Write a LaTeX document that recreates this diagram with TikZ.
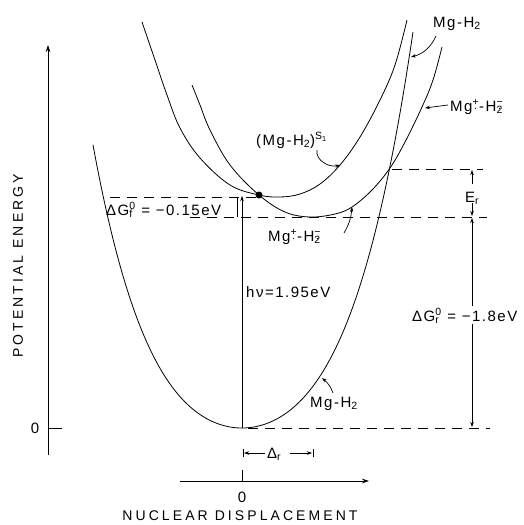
\documentclass[tikz,border=0pt]{standalone}
\usepackage{fontspec}
\setmainfont{Liberation Sans}[LetterSpace=10]
\newfontfamily\axisfont{Liberation Sans}[LetterSpace=22]
\usetikzlibrary{arrows.meta}
\newcommand\dotbelow[1]{\ooalign{\hfil#1\hfil\cr\hfil\raisebox{-0.6ex}{.}\hfil\cr}}
\newcommand\sbsp[2]{\rlap{\textsubscript{#1}}\textsuperscript{#2}}
\begin{document}
\begin{tikzpicture}[x=1pt,y=-1pt,
  curve/.style={line width=0.8pt},
  dsh/.style={line width=0.8pt,dash pattern=on 10pt off 7pt},
  ptr/.style={line width=0.7pt,-{Stealth[length=5pt,width=3.5pt]}},
  dim/.style={line width=0.6pt},
  dimarr/.style={line width=0.6pt,-{Stealth[length=5pt,width=3.5pt]}},
  lbl/.style={inner sep=0pt,font=\fontsize{15}{16}\selectfont},
  axlbl/.style={inner sep=0pt,font=\axisfont\fontsize{14}{16}\selectfont}]
\useasboundingbox (0,0) rectangle (523,525);
% axes
\coordinate (ybot) at (48,455);
\coordinate (ytop) at (48,45);
\coordinate (yt0) at (48,428);
\coordinate (yt1) at (62,428);
\draw[line width=0.7pt,-{Stealth[length=7pt,width=4.5pt]}] (ybot) -- (ytop);
\draw[line width=0.7pt] (yt0) -- (yt1);
\coordinate (xl) at (180,481);
\coordinate (xr) at (369,481);
\coordinate (xt0) at (242,481);
\coordinate (xt1) at (242,470);
\draw[line width=0.7pt,-{Stealth[length=7pt,width=4.5pt]}] (xl) -- (xr);
\draw[line width=0.7pt] (xt0) -- (xt1);
\node[lbl] (zy) at (35,428) {0};
\node[lbl] (zx) at (242,497) {0};
\node[axlbl] (xname) at (240,516) {NUCLEAR DISPLACEMENT};
\node[axlbl,rotate=90] (yname) at (18,266) {POTENTIAL ENERGY};
% curves
\draw[curve] plot[domain=-1.49:0,samples=60] ({242+100*\x},{428-72*\x*\x-25*\x*\x*\x*\x});
\draw[curve] plot[domain=0:1.71,samples=70] ({242+100*\x},{428-72*\x*\x-21.7*\x*\x*\x*\x});
\draw[curve] plot[smooth,tension=0.6] coordinates {(142,22) (155,60) (167,95) (180,128) (200,158) (230,185) (259,195) (280,197) (300,194) (320,184) (340,165) (360,137) (380,100) (395,65) (407,20)};
\draw[curve] plot[smooth,tension=0.6] coordinates {(192,85) (200,105) (210,130) (230,165) (259,195) (285,212) (310,217) (335,214) (352,207) (372,190) (390,168) (405,142) (422,107) (433,80) (442,47)};
% dashed levels
\coordinate (g1a) at (110,197); \coordinate (g1b) at (259,197);
\coordinate (g2a) at (190,217); \coordinate (g2b) at (487,217);
\coordinate (g3a) at (392,169); \coordinate (g3b) at (483,169);
\coordinate (g4a) at (248,428); \coordinate (g4b) at (490,428);
\draw[dsh] (g1a) -- (g1b);
\draw[dsh] (g2a) -- (g2b);
\draw[dsh] (g3a) -- (g3b);
\draw[dsh] (g4a) -- (g4b);
\coordinate (fb1) at (237,197); \coordinate (fb2) at (237,217);
\draw[dim] (fb1) -- (fb2);
% excitation
\coordinate (hv0) at (242,428); \coordinate (hv1) at (242,196);
\draw[dimarr] (hv0) -- (hv1);
\node[circle,fill,inner sep=0pt,minimum size=7pt] (dot) at (259,195) {};
% Er and dGr
\coordinate (e1) at (472,184); \coordinate (e2) at (472,170);
\coordinate (e3) at (472,203); \coordinate (e4) at (472,216);
\draw[dimarr] (e1) -- (e2);
\draw[dimarr] (e3) -- (e4);
\coordinate (r1) at (472,306); \coordinate (r2) at (472,218);
\coordinate (r3) at (472,324); \coordinate (r4) at (472,427);
\draw[dimarr] (r1) -- (r2);
\draw[dimarr] (r3) -- (r4);
% Delta r
\coordinate (d1) at (243,449); \coordinate (d2) at (243,457);
\coordinate (d3) at (313,449); \coordinate (d4) at (313,457);
\draw[dim] (d1) -- (d2); \draw[dim] (d3) -- (d4);
\coordinate (da) at (265,453); \coordinate (db) at (244,453);
\coordinate (dc) at (290,453); \coordinate (dd) at (312,453);
\draw[dimarr] (da) -- (db);
\draw[dimarr] (dc) -- (dd);
% labels
\node[lbl,anchor=base west] (lDr) at (267,458) {Δ\textsubscript{r}};
\node[lbl,anchor=base west] (lEr) at (465,202) {E\textsubscript{r}};
\node[lbl,anchor=base west] (lGr) at (412,321) {ΔG\sbsp{r}{0} = −1.8eV};
\node[lbl,anchor=base west] (lGf) at (106,215) {ΔG\sbsp{f}{0} = −0.15eV};
\node[lbl,anchor=base west] (lhv) at (246,297) {hν=1.95eV};
\node[lbl,anchor=base west] (lMgHlow) at (310,407) {Mg-H\textsubscript{2}};
\node[lbl,anchor=base west] (lMgpLow) at (268,241) {Mg\textsuperscript{\dotbelow{+}}-H\sbsp{2}{\dotbelow{−}}};
\node[lbl,anchor=base west] (lS1) at (256,145) {(Mg-H\textsubscript{2})\textsuperscript{S\textsubscript{1}}};
\node[lbl,anchor=base west] (lMgpR) at (450,111) {Mg\textsuperscript{\dotbelow{+}}-H\sbsp{2}{\dotbelow{−}}};
\node[lbl,anchor=base west] (lMgHtop) at (433,27) {Mg-H\textsubscript{2}};
% pointers
\coordinate (pA0) at (436,36); \coordinate (pA1) at (411,57);
\draw[ptr] (pA0) to[out=-115,in=15] (pA1);
\coordinate (pB0) at (448,105); \coordinate (pB1) at (425,108);
\draw[ptr] (pB0) -- (pB1);
\coordinate (pC0) at (317,150); \coordinate (pC1) at (340,165);
\draw[ptr] (pC0) to[out=-100,in=195] (pC1);
\coordinate (pD0) at (344,233); \coordinate (pD1) at (352,207);
\draw[ptr] (pD0) to[out=60,in=-95] (pD1);
\coordinate (pE0) at (333,393); \coordinate (pE1) at (322,378);
\draw[ptr] (pE0) to[out=110,in=-40] (pE1);
\end{tikzpicture}
\end{document}
